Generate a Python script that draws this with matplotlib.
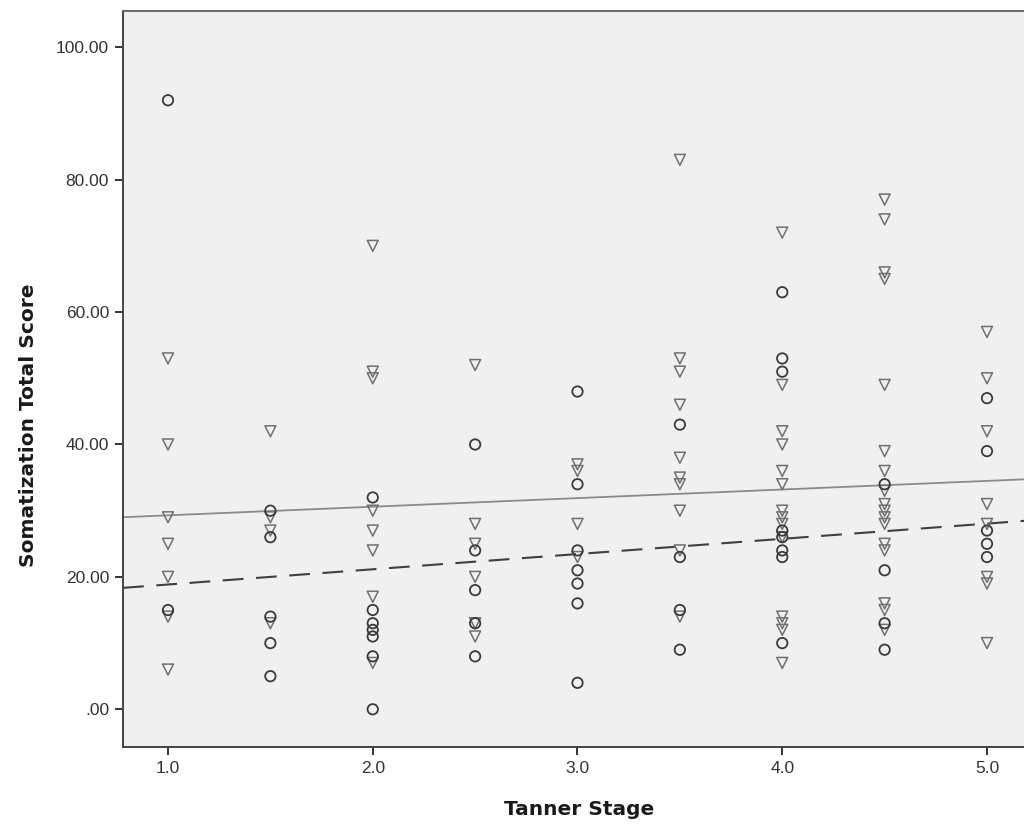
import matplotlib
matplotlib.use("Agg")
import matplotlib.pyplot as plt
from matplotlib.ticker import FixedLocator, FuncFormatter
import numpy as np

# ---- data ----
circle_stage = [1.0, 1.0,
                1.5, 1.5, 1.5, 1.5, 1.5,
                2.0, 2.0, 2.0, 2.0, 2.0, 2.0, 2.0,
                2.5, 2.5, 2.5, 2.5, 2.5,
                3.0, 3.0, 3.0, 3.0, 3.0, 3.0, 3.0,
                3.5, 3.5, 3.5, 3.5,
                4.0, 4.0, 4.0, 4.0, 4.0, 4.0, 4.0, 4.0,
                4.5, 4.5, 4.5, 4.5,
                5.0, 5.0, 5.0, 5.0, 5.0]
circle_score = [92, 15,
                30, 26, 14, 10, 5,
                32, 15, 13, 12, 11, 8, 0,
                40, 24, 18, 13, 8,
                48, 34, 24, 21, 19, 16, 4,
                43, 23, 15, 9,
                63, 53, 51, 27, 26, 24, 23, 10,
                34, 21, 13, 9,
                47, 39, 27, 25, 23]

tri_stage = [1.0] * 7 + [1.5] * 4 + [2.0] * 8 + [2.5] * 6 + [3.0] * 4 + \
            [3.5] * 10 + [4.0] * 14 + [4.5] * 17 + [5.0] * 8
tri_score = [53, 40, 29, 25, 20, 14, 6,
             42, 29, 27, 13,
             70, 51, 50, 30, 27, 24, 17, 7,
             52, 28, 25, 20, 13, 11,
             37, 36, 28, 23,
             83, 53, 51, 46, 38, 35, 34, 30, 24, 14,
             72, 49, 42, 40, 36, 34, 30, 29, 28, 26, 14, 13, 12, 7,
             77, 74, 66, 65, 49, 39, 36, 33, 31, 30, 29, 28, 25, 24, 16, 15, 12,
             57, 50, 42, 31, 28, 20, 19, 10]

# fit lines (intercept, slope)
solid_fit = [28.0, 1.3]
dashed_fit = [16.55, 2.3]

x_ticks = [1.0, 2.0, 3.0, 4.0, 5.0]
y_ticks = [0, 20, 40, 60, 80, 100]

plt.rcParams['font.family'] = ['Liberation Sans', 'DejaVu Sans']
plt.rcParams['lines.scale_dashes'] = False

fig = plt.figure(figsize=(10.24, 8.27), dpi=100)
fig.patch.set_facecolor('white')
ax_left = 123 / 1024
ax_right = 1032 / 1024
ax_bottom = 80.3 / 827
ax_top = 816 / 827
ax = fig.add_axes([ax_left, ax_bottom, ax_right - ax_left, ax_top - ax_bottom])
ax.set_facecolor('#f0f0f0')

x0 = 1.0 - 45 / 204.75
x1 = 1.0 + (1032 - 168) / 204.75
ax.set_xlim(x0, x1)
ax.set_ylim(-5.65, 105.48)

xs = np.array([x0, x1])
ax.plot(xs, solid_fit[0] + solid_fit[1] * xs, color='#8a8a8a', lw=1.3, zorder=2)
ax.plot(xs, dashed_fit[0] + dashed_fit[1] * xs, color='#404040', lw=1.5,
        dashes=(15, 9), zorder=2)

ax.scatter(tri_stage, tri_score, marker='v', s=62, facecolors='none',
           edgecolors='#707070', linewidths=1.1, zorder=3)
ax.scatter(circle_stage, circle_score, marker='o', s=56, facecolors='none',
           edgecolors='#3a3a3a', linewidths=1.3, zorder=4)

ax.xaxis.set_major_locator(FixedLocator(x_ticks))
ax.yaxis.set_major_locator(FixedLocator(y_ticks))
ax.xaxis.set_major_formatter(FuncFormatter(lambda v, p: f"{v:.1f}"))


def yfmt(v, p):
    s = f"{v:.2f}"
    if s.startswith("0"):
        s = s[1:]
    return s


ax.yaxis.set_major_formatter(FuncFormatter(yfmt))
ax.tick_params(axis='both', direction='out', length=6, width=1.4,
               color='#333333', labelsize=12.5, labelcolor='#333333', pad=4)

for side in ['left', 'bottom']:
    ax.spines[side].set_color('#444444')
    ax.spines[side].set_linewidth(1.4)
ax.spines['top'].set_color('#666666')
ax.spines['top'].set_linewidth(1.4)
ax.spines['right'].set_visible(False)

ax.set_xlabel('Tanner Stage', fontsize=14.5, fontweight='bold', color='#1a1a1a',
              family=['DejaVu Sans'])
ax.set_ylabel('Somatization Total Score', fontsize=14.5, fontweight='bold',
              color='#1a1a1a', family=['DejaVu Sans'])
ax.xaxis.set_label_coords((579 - 123) / (1032 - 123), -(800 - 746.7) / 735.7)
ax.yaxis.set_label_coords(-(123 - 38) / (1032 - 123), (746.7 - 425) / 735.7)

fig.savefig('out.png', dpi=100, facecolor='white')
